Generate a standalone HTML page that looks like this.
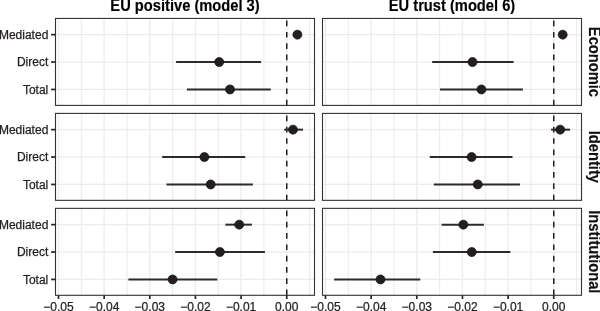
<!DOCTYPE html><html><head><meta charset="utf-8"><style>html,body{margin:0;padding:0;background:#fff;}svg{display:block;}svg{will-change:transform}text{font-family:"Liberation Sans",sans-serif;}</style></head><body>
<svg width="600" height="311" viewBox="0 0 600 311">
<rect x="0" y="0" width="600" height="311" fill="#fff"/>
<rect x="55.5" y="18.45" width="259.0" height="86.95" fill="#fff"/>
<line x1="81.33" y1="18.45" x2="81.33" y2="105.40" stroke="#ebedef" stroke-width="1.15"/>
<line x1="126.97" y1="18.45" x2="126.97" y2="105.40" stroke="#ebedef" stroke-width="1.15"/>
<line x1="172.62" y1="18.45" x2="172.62" y2="105.40" stroke="#ebedef" stroke-width="1.15"/>
<line x1="218.28" y1="18.45" x2="218.28" y2="105.40" stroke="#ebedef" stroke-width="1.15"/>
<line x1="263.93" y1="18.45" x2="263.93" y2="105.40" stroke="#ebedef" stroke-width="1.15"/>
<line x1="309.57" y1="18.45" x2="309.57" y2="105.40" stroke="#ebedef" stroke-width="1.15"/>
<line x1="58.50" y1="18.45" x2="58.50" y2="105.40" stroke="#eaecee" stroke-width="1.3"/>
<line x1="104.15" y1="18.45" x2="104.15" y2="105.40" stroke="#eaecee" stroke-width="1.3"/>
<line x1="149.80" y1="18.45" x2="149.80" y2="105.40" stroke="#eaecee" stroke-width="1.3"/>
<line x1="195.45" y1="18.45" x2="195.45" y2="105.40" stroke="#eaecee" stroke-width="1.3"/>
<line x1="241.10" y1="18.45" x2="241.10" y2="105.40" stroke="#eaecee" stroke-width="1.3"/>
<line x1="286.75" y1="18.45" x2="286.75" y2="105.40" stroke="#eaecee" stroke-width="1.3"/>
<line x1="55.5" y1="34.65" x2="314.5" y2="34.65" stroke="#eaecee" stroke-width="1.3"/>
<line x1="55.5" y1="62.05" x2="314.5" y2="62.05" stroke="#eaecee" stroke-width="1.3"/>
<line x1="55.5" y1="89.45" x2="314.5" y2="89.45" stroke="#eaecee" stroke-width="1.3"/>
<line x1="286.75" y1="105.40" x2="286.75" y2="18.45" stroke="#231f20" stroke-width="1.5" stroke-dasharray="5.7 5.6"/>
<circle cx="297.4" cy="34.65" r="4.5" fill="#231f20" stroke="#121011" stroke-width="0.7"/>
<line x1="176.1" y1="62.05" x2="261.1" y2="62.05" stroke="#2e2a2b" stroke-width="2.0"/>
<circle cx="219.2" cy="62.05" r="4.5" fill="#231f20" stroke="#121011" stroke-width="0.7"/>
<line x1="186.9" y1="89.45" x2="270.8" y2="89.45" stroke="#2e2a2b" stroke-width="2.0"/>
<circle cx="230.0" cy="89.45" r="4.5" fill="#231f20" stroke="#121011" stroke-width="0.7"/>
<rect x="55.5" y="18.45" width="259.0" height="86.95" fill="none" stroke="#333333" stroke-width="1.1"/>
<rect x="55.5" y="113.4" width="259.0" height="86.95" fill="#fff"/>
<line x1="81.33" y1="113.4" x2="81.33" y2="200.35" stroke="#ebedef" stroke-width="1.15"/>
<line x1="126.97" y1="113.4" x2="126.97" y2="200.35" stroke="#ebedef" stroke-width="1.15"/>
<line x1="172.62" y1="113.4" x2="172.62" y2="200.35" stroke="#ebedef" stroke-width="1.15"/>
<line x1="218.28" y1="113.4" x2="218.28" y2="200.35" stroke="#ebedef" stroke-width="1.15"/>
<line x1="263.93" y1="113.4" x2="263.93" y2="200.35" stroke="#ebedef" stroke-width="1.15"/>
<line x1="309.57" y1="113.4" x2="309.57" y2="200.35" stroke="#ebedef" stroke-width="1.15"/>
<line x1="58.50" y1="113.4" x2="58.50" y2="200.35" stroke="#eaecee" stroke-width="1.3"/>
<line x1="104.15" y1="113.4" x2="104.15" y2="200.35" stroke="#eaecee" stroke-width="1.3"/>
<line x1="149.80" y1="113.4" x2="149.80" y2="200.35" stroke="#eaecee" stroke-width="1.3"/>
<line x1="195.45" y1="113.4" x2="195.45" y2="200.35" stroke="#eaecee" stroke-width="1.3"/>
<line x1="241.10" y1="113.4" x2="241.10" y2="200.35" stroke="#eaecee" stroke-width="1.3"/>
<line x1="286.75" y1="113.4" x2="286.75" y2="200.35" stroke="#eaecee" stroke-width="1.3"/>
<line x1="55.5" y1="129.65" x2="314.5" y2="129.65" stroke="#eaecee" stroke-width="1.3"/>
<line x1="55.5" y1="157.05" x2="314.5" y2="157.05" stroke="#eaecee" stroke-width="1.3"/>
<line x1="55.5" y1="184.45" x2="314.5" y2="184.45" stroke="#eaecee" stroke-width="1.3"/>
<line x1="286.75" y1="200.35" x2="286.75" y2="113.4" stroke="#231f20" stroke-width="1.5" stroke-dasharray="5.7 5.6"/>
<line x1="284.2" y1="129.65" x2="303.0" y2="129.65" stroke="#2e2a2b" stroke-width="2.0"/>
<circle cx="293.0" cy="129.65" r="4.5" fill="#231f20" stroke="#121011" stroke-width="0.7"/>
<line x1="162.2" y1="157.05" x2="245.2" y2="157.05" stroke="#2e2a2b" stroke-width="2.0"/>
<circle cx="204.4" cy="157.05" r="4.5" fill="#231f20" stroke="#121011" stroke-width="0.7"/>
<line x1="166.5" y1="184.45" x2="252.9" y2="184.45" stroke="#2e2a2b" stroke-width="2.0"/>
<circle cx="210.7" cy="184.45" r="4.5" fill="#231f20" stroke="#121011" stroke-width="0.7"/>
<rect x="55.5" y="113.4" width="259.0" height="86.95" fill="none" stroke="#333333" stroke-width="1.1"/>
<rect x="55.5" y="208.35" width="259.0" height="86.95" fill="#fff"/>
<line x1="81.33" y1="208.35" x2="81.33" y2="295.30" stroke="#ebedef" stroke-width="1.15"/>
<line x1="126.97" y1="208.35" x2="126.97" y2="295.30" stroke="#ebedef" stroke-width="1.15"/>
<line x1="172.62" y1="208.35" x2="172.62" y2="295.30" stroke="#ebedef" stroke-width="1.15"/>
<line x1="218.28" y1="208.35" x2="218.28" y2="295.30" stroke="#ebedef" stroke-width="1.15"/>
<line x1="263.93" y1="208.35" x2="263.93" y2="295.30" stroke="#ebedef" stroke-width="1.15"/>
<line x1="309.57" y1="208.35" x2="309.57" y2="295.30" stroke="#ebedef" stroke-width="1.15"/>
<line x1="58.50" y1="208.35" x2="58.50" y2="295.30" stroke="#eaecee" stroke-width="1.3"/>
<line x1="104.15" y1="208.35" x2="104.15" y2="295.30" stroke="#eaecee" stroke-width="1.3"/>
<line x1="149.80" y1="208.35" x2="149.80" y2="295.30" stroke="#eaecee" stroke-width="1.3"/>
<line x1="195.45" y1="208.35" x2="195.45" y2="295.30" stroke="#eaecee" stroke-width="1.3"/>
<line x1="241.10" y1="208.35" x2="241.10" y2="295.30" stroke="#eaecee" stroke-width="1.3"/>
<line x1="286.75" y1="208.35" x2="286.75" y2="295.30" stroke="#eaecee" stroke-width="1.3"/>
<line x1="55.5" y1="224.65" x2="314.5" y2="224.65" stroke="#eaecee" stroke-width="1.3"/>
<line x1="55.5" y1="252.05" x2="314.5" y2="252.05" stroke="#eaecee" stroke-width="1.3"/>
<line x1="55.5" y1="279.45" x2="314.5" y2="279.45" stroke="#eaecee" stroke-width="1.3"/>
<line x1="286.75" y1="295.30" x2="286.75" y2="208.35" stroke="#231f20" stroke-width="1.5" stroke-dasharray="5.7 5.6"/>
<line x1="225.4" y1="224.65" x2="251.9" y2="224.65" stroke="#2e2a2b" stroke-width="2.0"/>
<circle cx="239.2" cy="224.65" r="4.5" fill="#231f20" stroke="#121011" stroke-width="0.7"/>
<line x1="175.2" y1="252.05" x2="264.9" y2="252.05" stroke="#2e2a2b" stroke-width="2.0"/>
<circle cx="219.9" cy="252.05" r="4.5" fill="#231f20" stroke="#121011" stroke-width="0.7"/>
<line x1="128.4" y1="279.45" x2="217.3" y2="279.45" stroke="#2e2a2b" stroke-width="2.0"/>
<circle cx="172.6" cy="279.45" r="4.5" fill="#231f20" stroke="#121011" stroke-width="0.7"/>
<rect x="55.5" y="208.35" width="259.0" height="86.95" fill="none" stroke="#333333" stroke-width="1.1"/>
<rect x="322.5" y="18.45" width="259.0" height="86.95" fill="#fff"/>
<line x1="348.33" y1="18.45" x2="348.33" y2="105.40" stroke="#ebedef" stroke-width="1.15"/>
<line x1="393.98" y1="18.45" x2="393.98" y2="105.40" stroke="#ebedef" stroke-width="1.15"/>
<line x1="439.62" y1="18.45" x2="439.62" y2="105.40" stroke="#ebedef" stroke-width="1.15"/>
<line x1="485.27" y1="18.45" x2="485.27" y2="105.40" stroke="#ebedef" stroke-width="1.15"/>
<line x1="530.92" y1="18.45" x2="530.92" y2="105.40" stroke="#ebedef" stroke-width="1.15"/>
<line x1="576.58" y1="18.45" x2="576.58" y2="105.40" stroke="#ebedef" stroke-width="1.15"/>
<line x1="325.50" y1="18.45" x2="325.50" y2="105.40" stroke="#eaecee" stroke-width="1.3"/>
<line x1="371.15" y1="18.45" x2="371.15" y2="105.40" stroke="#eaecee" stroke-width="1.3"/>
<line x1="416.80" y1="18.45" x2="416.80" y2="105.40" stroke="#eaecee" stroke-width="1.3"/>
<line x1="462.45" y1="18.45" x2="462.45" y2="105.40" stroke="#eaecee" stroke-width="1.3"/>
<line x1="508.10" y1="18.45" x2="508.10" y2="105.40" stroke="#eaecee" stroke-width="1.3"/>
<line x1="553.75" y1="18.45" x2="553.75" y2="105.40" stroke="#eaecee" stroke-width="1.3"/>
<line x1="322.5" y1="34.65" x2="581.5" y2="34.65" stroke="#eaecee" stroke-width="1.3"/>
<line x1="322.5" y1="62.05" x2="581.5" y2="62.05" stroke="#eaecee" stroke-width="1.3"/>
<line x1="322.5" y1="89.45" x2="581.5" y2="89.45" stroke="#eaecee" stroke-width="1.3"/>
<line x1="553.75" y1="105.40" x2="553.75" y2="18.45" stroke="#231f20" stroke-width="1.5" stroke-dasharray="5.7 5.6"/>
<circle cx="562.7" cy="34.65" r="4.5" fill="#231f20" stroke="#121011" stroke-width="0.7"/>
<line x1="432.2" y1="62.05" x2="513.6" y2="62.05" stroke="#2e2a2b" stroke-width="2.0"/>
<circle cx="472.5" cy="62.05" r="4.5" fill="#231f20" stroke="#121011" stroke-width="0.7"/>
<line x1="440.0" y1="89.45" x2="522.9" y2="89.45" stroke="#2e2a2b" stroke-width="2.0"/>
<circle cx="481.4" cy="89.45" r="4.5" fill="#231f20" stroke="#121011" stroke-width="0.7"/>
<rect x="322.5" y="18.45" width="259.0" height="86.95" fill="none" stroke="#333333" stroke-width="1.1"/>
<rect x="322.5" y="113.4" width="259.0" height="86.95" fill="#fff"/>
<line x1="348.33" y1="113.4" x2="348.33" y2="200.35" stroke="#ebedef" stroke-width="1.15"/>
<line x1="393.98" y1="113.4" x2="393.98" y2="200.35" stroke="#ebedef" stroke-width="1.15"/>
<line x1="439.62" y1="113.4" x2="439.62" y2="200.35" stroke="#ebedef" stroke-width="1.15"/>
<line x1="485.27" y1="113.4" x2="485.27" y2="200.35" stroke="#ebedef" stroke-width="1.15"/>
<line x1="530.92" y1="113.4" x2="530.92" y2="200.35" stroke="#ebedef" stroke-width="1.15"/>
<line x1="576.58" y1="113.4" x2="576.58" y2="200.35" stroke="#ebedef" stroke-width="1.15"/>
<line x1="325.50" y1="113.4" x2="325.50" y2="200.35" stroke="#eaecee" stroke-width="1.3"/>
<line x1="371.15" y1="113.4" x2="371.15" y2="200.35" stroke="#eaecee" stroke-width="1.3"/>
<line x1="416.80" y1="113.4" x2="416.80" y2="200.35" stroke="#eaecee" stroke-width="1.3"/>
<line x1="462.45" y1="113.4" x2="462.45" y2="200.35" stroke="#eaecee" stroke-width="1.3"/>
<line x1="508.10" y1="113.4" x2="508.10" y2="200.35" stroke="#eaecee" stroke-width="1.3"/>
<line x1="553.75" y1="113.4" x2="553.75" y2="200.35" stroke="#eaecee" stroke-width="1.3"/>
<line x1="322.5" y1="129.65" x2="581.5" y2="129.65" stroke="#eaecee" stroke-width="1.3"/>
<line x1="322.5" y1="157.05" x2="581.5" y2="157.05" stroke="#eaecee" stroke-width="1.3"/>
<line x1="322.5" y1="184.45" x2="581.5" y2="184.45" stroke="#eaecee" stroke-width="1.3"/>
<line x1="553.75" y1="200.35" x2="553.75" y2="113.4" stroke="#231f20" stroke-width="1.5" stroke-dasharray="5.7 5.6"/>
<line x1="551.1" y1="129.65" x2="570.1" y2="129.65" stroke="#2e2a2b" stroke-width="2.0"/>
<circle cx="560.2" cy="129.65" r="4.5" fill="#231f20" stroke="#121011" stroke-width="0.7"/>
<line x1="429.8" y1="157.05" x2="512.5" y2="157.05" stroke="#2e2a2b" stroke-width="2.0"/>
<circle cx="471.6" cy="157.05" r="4.5" fill="#231f20" stroke="#121011" stroke-width="0.7"/>
<line x1="433.8" y1="184.45" x2="520.0" y2="184.45" stroke="#2e2a2b" stroke-width="2.0"/>
<circle cx="477.8" cy="184.45" r="4.5" fill="#231f20" stroke="#121011" stroke-width="0.7"/>
<rect x="322.5" y="113.4" width="259.0" height="86.95" fill="none" stroke="#333333" stroke-width="1.1"/>
<rect x="322.5" y="208.35" width="259.0" height="86.95" fill="#fff"/>
<line x1="348.33" y1="208.35" x2="348.33" y2="295.30" stroke="#ebedef" stroke-width="1.15"/>
<line x1="393.98" y1="208.35" x2="393.98" y2="295.30" stroke="#ebedef" stroke-width="1.15"/>
<line x1="439.62" y1="208.35" x2="439.62" y2="295.30" stroke="#ebedef" stroke-width="1.15"/>
<line x1="485.27" y1="208.35" x2="485.27" y2="295.30" stroke="#ebedef" stroke-width="1.15"/>
<line x1="530.92" y1="208.35" x2="530.92" y2="295.30" stroke="#ebedef" stroke-width="1.15"/>
<line x1="576.58" y1="208.35" x2="576.58" y2="295.30" stroke="#ebedef" stroke-width="1.15"/>
<line x1="325.50" y1="208.35" x2="325.50" y2="295.30" stroke="#eaecee" stroke-width="1.3"/>
<line x1="371.15" y1="208.35" x2="371.15" y2="295.30" stroke="#eaecee" stroke-width="1.3"/>
<line x1="416.80" y1="208.35" x2="416.80" y2="295.30" stroke="#eaecee" stroke-width="1.3"/>
<line x1="462.45" y1="208.35" x2="462.45" y2="295.30" stroke="#eaecee" stroke-width="1.3"/>
<line x1="508.10" y1="208.35" x2="508.10" y2="295.30" stroke="#eaecee" stroke-width="1.3"/>
<line x1="553.75" y1="208.35" x2="553.75" y2="295.30" stroke="#eaecee" stroke-width="1.3"/>
<line x1="322.5" y1="224.65" x2="581.5" y2="224.65" stroke="#eaecee" stroke-width="1.3"/>
<line x1="322.5" y1="252.05" x2="581.5" y2="252.05" stroke="#eaecee" stroke-width="1.3"/>
<line x1="322.5" y1="279.45" x2="581.5" y2="279.45" stroke="#eaecee" stroke-width="1.3"/>
<line x1="553.75" y1="295.30" x2="553.75" y2="208.35" stroke="#231f20" stroke-width="1.5" stroke-dasharray="5.7 5.6"/>
<line x1="441.6" y1="224.65" x2="483.8" y2="224.65" stroke="#2e2a2b" stroke-width="2.0"/>
<circle cx="463.3" cy="224.65" r="4.5" fill="#231f20" stroke="#121011" stroke-width="0.7"/>
<line x1="432.9" y1="252.05" x2="510.4" y2="252.05" stroke="#2e2a2b" stroke-width="2.0"/>
<circle cx="471.8" cy="252.05" r="4.5" fill="#231f20" stroke="#121011" stroke-width="0.7"/>
<line x1="334.2" y1="279.45" x2="420.3" y2="279.45" stroke="#2e2a2b" stroke-width="2.0"/>
<circle cx="380.5" cy="279.45" r="4.5" fill="#231f20" stroke="#121011" stroke-width="0.7"/>
<rect x="322.5" y="208.35" width="259.0" height="86.95" fill="none" stroke="#333333" stroke-width="1.1"/>
<line x1="51.1" y1="34.65" x2="55.5" y2="34.65" stroke="#262626" stroke-width="1.7"/>
<text x="48.3" y="39.3" font-size="12" text-anchor="end" fill="#231f20" stroke="#231f20" stroke-width="0.25">Mediated</text>
<line x1="51.1" y1="62.05" x2="55.5" y2="62.05" stroke="#262626" stroke-width="1.7"/>
<text x="48.3" y="66.3" font-size="12" text-anchor="end" fill="#231f20" stroke="#231f20" stroke-width="0.25">Direct</text>
<line x1="51.1" y1="89.45" x2="55.5" y2="89.45" stroke="#262626" stroke-width="1.7"/>
<text x="48.3" y="94.3" font-size="12" text-anchor="end" fill="#231f20" stroke="#231f20" stroke-width="0.25">Total</text>
<line x1="51.1" y1="129.65" x2="55.5" y2="129.65" stroke="#262626" stroke-width="1.7"/>
<text x="48.3" y="134.3" font-size="12" text-anchor="end" fill="#231f20" stroke="#231f20" stroke-width="0.25">Mediated</text>
<line x1="51.1" y1="157.05" x2="55.5" y2="157.05" stroke="#262626" stroke-width="1.7"/>
<text x="48.3" y="161.3" font-size="12" text-anchor="end" fill="#231f20" stroke="#231f20" stroke-width="0.25">Direct</text>
<line x1="51.1" y1="184.45" x2="55.5" y2="184.45" stroke="#262626" stroke-width="1.7"/>
<text x="48.3" y="189.3" font-size="12" text-anchor="end" fill="#231f20" stroke="#231f20" stroke-width="0.25">Total</text>
<line x1="51.1" y1="224.65" x2="55.5" y2="224.65" stroke="#262626" stroke-width="1.7"/>
<text x="48.3" y="229.3" font-size="12" text-anchor="end" fill="#231f20" stroke="#231f20" stroke-width="0.25">Mediated</text>
<line x1="51.1" y1="252.05" x2="55.5" y2="252.05" stroke="#262626" stroke-width="1.7"/>
<text x="48.3" y="256.3" font-size="12" text-anchor="end" fill="#231f20" stroke="#231f20" stroke-width="0.25">Direct</text>
<line x1="51.1" y1="279.45" x2="55.5" y2="279.45" stroke="#262626" stroke-width="1.7"/>
<text x="48.3" y="284.3" font-size="12" text-anchor="end" fill="#231f20" stroke="#231f20" stroke-width="0.25">Total</text>
<line x1="58.50" y1="295.30" x2="58.50" y2="299.0" stroke="#262626" stroke-width="1.7"/>
<text transform="translate(58.50,311.0)" font-size="12" text-anchor="middle" fill="#231f20" stroke="#231f20" stroke-width="0.25">−0.05</text>
<line x1="104.15" y1="295.30" x2="104.15" y2="299.0" stroke="#262626" stroke-width="1.7"/>
<text transform="translate(104.15,311.0)" font-size="12" text-anchor="middle" fill="#231f20" stroke="#231f20" stroke-width="0.25">−0.04</text>
<line x1="149.80" y1="295.30" x2="149.80" y2="299.0" stroke="#262626" stroke-width="1.7"/>
<text transform="translate(149.80,311.0)" font-size="12" text-anchor="middle" fill="#231f20" stroke="#231f20" stroke-width="0.25">−0.03</text>
<line x1="195.45" y1="295.30" x2="195.45" y2="299.0" stroke="#262626" stroke-width="1.7"/>
<text transform="translate(195.45,311.0)" font-size="12" text-anchor="middle" fill="#231f20" stroke="#231f20" stroke-width="0.25">−0.02</text>
<line x1="241.10" y1="295.30" x2="241.10" y2="299.0" stroke="#262626" stroke-width="1.7"/>
<text transform="translate(241.10,311.0)" font-size="12" text-anchor="middle" fill="#231f20" stroke="#231f20" stroke-width="0.25">−0.01</text>
<line x1="286.75" y1="295.30" x2="286.75" y2="299.0" stroke="#262626" stroke-width="1.7"/>
<text transform="translate(286.75,311.0)" font-size="12" text-anchor="middle" fill="#231f20" stroke="#231f20" stroke-width="0.25">0.00</text>
<line x1="325.50" y1="295.30" x2="325.50" y2="299.0" stroke="#262626" stroke-width="1.7"/>
<text transform="translate(325.50,311.0)" font-size="12" text-anchor="middle" fill="#231f20" stroke="#231f20" stroke-width="0.25">−0.05</text>
<line x1="371.15" y1="295.30" x2="371.15" y2="299.0" stroke="#262626" stroke-width="1.7"/>
<text transform="translate(371.15,311.0)" font-size="12" text-anchor="middle" fill="#231f20" stroke="#231f20" stroke-width="0.25">−0.04</text>
<line x1="416.80" y1="295.30" x2="416.80" y2="299.0" stroke="#262626" stroke-width="1.7"/>
<text transform="translate(416.80,311.0)" font-size="12" text-anchor="middle" fill="#231f20" stroke="#231f20" stroke-width="0.25">−0.03</text>
<line x1="462.45" y1="295.30" x2="462.45" y2="299.0" stroke="#262626" stroke-width="1.7"/>
<text transform="translate(462.45,311.0)" font-size="12" text-anchor="middle" fill="#231f20" stroke="#231f20" stroke-width="0.25">−0.02</text>
<line x1="508.10" y1="295.30" x2="508.10" y2="299.0" stroke="#262626" stroke-width="1.7"/>
<text transform="translate(508.10,311.0)" font-size="12" text-anchor="middle" fill="#231f20" stroke="#231f20" stroke-width="0.25">−0.01</text>
<line x1="553.75" y1="295.30" x2="553.75" y2="299.0" stroke="#262626" stroke-width="1.7"/>
<text transform="translate(553.75,311.0)" font-size="12" text-anchor="middle" fill="#231f20" stroke="#231f20" stroke-width="0.25">0.00</text>
<text transform="translate(185.0,10.9) scale(1,1.06)" font-size="14.7" font-weight="bold" text-anchor="middle" fill="#000" stroke="#000" stroke-width="0.15">EU positive (model 3)</text>
<text transform="translate(452.0,10.9) scale(1,1.06)" font-size="14.7" font-weight="bold" text-anchor="middle" fill="#000" stroke="#000" stroke-width="0.15">EU trust (model 6)</text>
<text transform="translate(589.2,61.92) rotate(90) scale(1,1.06)" x="0" y="0" font-size="14.7" font-weight="bold" text-anchor="middle" fill="#111" stroke="#111" stroke-width="0.15">Economic</text>
<text transform="translate(589.2,156.88) rotate(90) scale(1,1.06)" x="0" y="0" font-size="14.7" font-weight="bold" text-anchor="middle" fill="#111" stroke="#111" stroke-width="0.15">Identity</text>
<text transform="translate(589.2,251.82) rotate(90) scale(1,1.06)" x="0" y="0" font-size="14.7" font-weight="bold" text-anchor="middle" fill="#111" stroke="#111" stroke-width="0.15">Institutional</text>
</svg></body></html>
